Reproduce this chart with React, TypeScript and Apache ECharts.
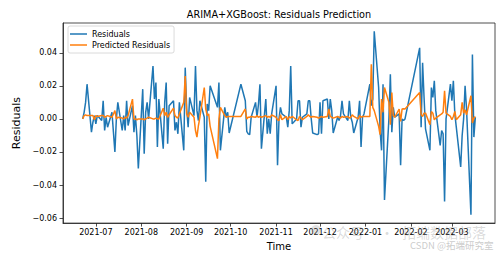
import React, { useEffect, useRef } from "react";
import * as echarts from "echarts";

// Trading months (year, month) and the trading days in each of them
const tradeMonths: [number, number][] = [
  [2021, 6], [2021, 7], [2021, 8], [2021, 9], [2021, 10],
  [2021, 11], [2021, 12], [2022, 1], [2022, 2], [2022, 3],
];

const tradeDays: number[][] = [
  [22, 23, 24, 25, 28, 29, 30],
  [1, 2, 5, 6, 7, 8, 9, 12, 13, 14, 15, 16, 19, 20, 21, 22, 23, 26, 27, 28, 29, 30],
  [2, 3, 4, 5, 6, 9, 10, 11, 12, 13, 16, 17, 18, 19, 20, 23, 24, 25, 26, 27, 30, 31],
  [1, 2, 3, 6, 7, 8, 9, 10, 13, 14, 15, 16, 17, 22, 23, 24, 27, 28, 29, 30],
  [8, 11, 12, 13, 14, 15, 18, 19, 20, 21, 22, 25, 26, 27, 28, 29],
  [1, 2, 3, 4, 5, 8, 9, 10, 11, 12, 15, 16, 17, 18, 19, 22, 23, 24, 25, 26, 29, 30],
  [1, 2, 3, 6, 7, 8, 9, 10, 13, 14, 15, 16, 17, 20, 21, 22, 23, 24, 27, 28, 29, 30, 31],
  [4, 5, 6, 7, 10, 11, 12, 13, 14, 17, 18, 19, 20, 21, 24, 25, 26, 27, 28],
  [7, 8, 9, 10, 11, 14, 15, 16, 17, 18, 21, 22, 23, 24, 25, 28],
  [1, 2, 3, 4, 7, 8, 9, 10, 11, 14, 15, 16, 17],
];

// ARIMA residuals, one row per month
const residuals: number[][] = [
  [0.0, 0.004, 0.01, 0.021, -0.008, -0.002, 0.002],
  [-0.003, 0.002, -0.001, 0.011, -0.007, 0.001, -0.005, 0.004, -0.008, -0.02, 0.0, 0.01, -0.007, 0.002, -0.007, 0.011, -0.004, 0.008, -0.008, 0.002, -0.01, -0.03],
  [0.018, -0.021, 0.004, 0.01, 0.0, 0.032, 0.012, 0.022, -0.017, 0.012, -0.018, 0.01, 0.022, -0.015, 0.008, 0.011, -0.007, -0.002, -0.009, 0.01, -0.019, 0.031],
  [0.006, -0.005, 0.013, 0.002, 0.032, 0.005, -0.001, 0.011, 0.001, -0.038, 0.009, 0.005, 0.02, 0.007, 0.022, -0.019, 0.007, 0.001, 0.004, -0.0085],
  [0.021, 0.011, -0.0075, -0.009, -0.0095, 0.001, 0.01, 0.001, 0.009, 0.021, -0.018, 0.012, -0.009, 0.0, -0.009, 0.003],
  [0.02, -0.028, 0.0, 0.007, 0.003, 0.001, -0.005, 0.005, 0.032, -0.003, 0.0, 0.011, 0.011, -0.005, 0.001, 0.003, 0.011, 0.011, 0.0, -0.0085, -0.0095, -0.009],
  [0.01, -0.009, 0.011, 0.012, 0.0, 0.012, 0.005, -0.0085, 0.001, -0.001, 0.002, 0.011, 0.003, -0.001, 0.011, 0.001, -0.002, -0.0085, 0.001, 0.011, -0.017, 0.001, 0.003],
  [0.021, 0.008, 0.012, 0.053, 0.019, -0.007, -0.019, 0.021, -0.049, 0.0, 0.027, -0.008, 0.007, 0.001, 0.003, -0.028, 0.0, -0.001, 0.0],
  [0.043, -0.005, 0.034, 0.013, -0.006, -0.019, 0.019, 0.013, 0.023, 0.005, -0.016, -0.007, -0.009, -0.05, 0.0, 0.021],
  [0.011, 0.023, 0.003, -0.005, -0.029, -0.01, 0.0, 0.02, 0.006, -0.058, 0.039, -0.011, 0.001],
];

// XGBoost predictions of the residuals, one row per month
const predicted: number[][] = [
  [0.0, 0.002, 0.0025, 0.002, 0.002, 0.002, -0.0005],
  [0.002, 0.0015, 0.002, 0.002, 0.001, 0.0015, 0.002, 0.001, 0.003, 0.005, 0.0, 0.001, 0.0005, 0.0, 0.001, 0.0005, 0.002, 0.012, 0.0, 0.0, -0.0005, 0.0],
  [0.0, -0.0005, 0.0, 0.0005, 0.001, 0.0, 0.0, 0.0005, 0.0, 0.0, 0.0065, 0.002, 0.004, 0.001, 0.0025, 0.0065, 0.002, 0.001, 0.0005, 0.003, 0.01, 0.026],
  [0.003, 0.001, 0.004, 0.001, -0.007, -0.011, -0.004, 0.001, 0.019, 0.006, 0.002, 0.003, -0.0045, -0.024, 0.0, 0.007, 0.002, 0.001, 0.0015, 0.0015],
  [0.0015, 0.006, 0.0, 0.001, 0.001, 0.0015, 0.001, 0.002, 0.001, 0.0015, 0.001, 0.002, 0.001, 0.0015, 0.001, 0.0025],
  [0.001, -0.0005, -0.001, 0.0025, -0.0005, 0.0015, -0.0005, 0.0015, 0.0005, 0.0015, -0.0005, -0.001, 0.0015, 0.0005, -0.0005, 0.0015, 0.0025, 0.0015, 0.001, 0.0015, 0.001, 0.0005],
  [0.001, 0.0015, 0.001, 0.0015, 0.006, 0.0015, 0.001, 0.0005, 0.0015, 0.001, 0.0005, 0.0015, 0.001, 0.0015, 0.0005, 0.001, 0.0025, 0.0015, 0.0, 0.002, 0.001, 0.0015, 0.0015],
  [0.0015, 0.033, 0.007, 0.005, -0.0045, -0.0095, 0.012, 0.004, 0.019, 0.01, -0.0035, 0.016, 0.002, 0.001, 0.006, -0.0015, 0.006, 0.0062, 0.006],
  [0.016, 0.0025, 0.0015, 0.0035, 0.0035, -0.0035, 0.0045, 0.0035, -0.0005, 0.0005, 0.0025, 0.003, 0.004, 0.017, 0.0035, 0.0015],
  [-0.0005, 0.0015, 0.0045, -0.0005, 0.0025, 0.01, 0.0035, 0.0055, 0.0025, 0.014, -0.0025, 0.0005, 0.0015],
];

// Axis ticks
const monthTicks: [number, number][] = [
  [2021, 7], [2021, 8], [2021, 9], [2021, 10], [2021, 11], [2021, 12], [2022, 1], [2022, 2], [2022, 3],
];
const yTicks = [-0.06, -0.04, -0.02, 0.0, 0.02, 0.04];

const FONT = "DejaVu Sans";

const ts = (y: number, m: number, d: number, h = 0) => new Date(y, m - 1, d, h).getTime();

function buildSeries(values: number[][]): [number, number][] {
  const out: [number, number][] = [];
  tradeMonths.forEach(([y, m], i) => {
    tradeDays[i].forEach((d, j) => {
      out.push([ts(y, m, d), values[i][j]]);
    });
  });
  return out;
}

export default function App() {
  const ref = useRef<HTMLDivElement>(null);

  useEffect(() => {
    if (!ref.current) return;
    const chart = echarts.init(ref.current, undefined, { renderer: "svg" });
    const xTickValues = monthTicks.map(([y, m]) => ts(y, m, 1));
    const watermark = "rgba(140,140,140,0.33)";

    chart.setOption({
      animation: false,
      backgroundColor: "#ffffff",
      textStyle: { fontFamily: FONT },
      title: {
        text: "ARIMA+XGBoost: Residuals Prediction",
        left: 279,
        textAlign: "center",
        top: 9,
        padding: 0,
        textStyle: { fontFamily: FONT, fontSize: 9.7, fontWeight: "normal", color: "#000" },
      },
      legend: {
        orient: "vertical",
        left: 68,
        top: 26,
        icon: "rect",
        itemWidth: 17,
        itemHeight: 1.5,
        itemGap: 1,
        padding: [3, 4, 3, 2],
        backgroundColor: "rgba(255,255,255,0.8)",
        borderColor: "#d0d0d0",
        borderWidth: 0.8,
        borderRadius: 2,
        textStyle: { fontFamily: FONT, fontSize: 8, lineHeight: 10, color: "#000" },
        data: ["Residuals", "Predicted Residuals"],
      },
      grid: {
        left: 63,
        top: 23,
        right: 7,
        bottom: 29,
        show: true,
        borderColor: "#222",
        borderWidth: 0.8,
        backgroundColor: "transparent",
      },
      xAxis: {
        type: "value",
        min: ts(2021, 6, 8, 14),
        max: ts(2022, 3, 30, 10),
        name: "Time",
        nameLocation: "middle",
        nameGap: 16,
        nameTextStyle: { fontFamily: FONT, fontSize: 10, color: "#000" },
        axisLine: { show: true, onZero: false, lineStyle: { color: "#222", width: 0.8 } },
        axisTick: { show: true, length: 3.5, lineStyle: { color: "#222", width: 0.8 }, customValues: xTickValues },
        axisLabel: {
          customValues: xTickValues,
          fontFamily: FONT,
          fontSize: 8,
          color: "#000",
          margin: 5,
          formatter: (v: number) => {
            const d = new Date(v);
            return `${d.getFullYear()}-${String(d.getMonth() + 1).padStart(2, "0")}`;
          },
        },
        splitLine: { show: false },
      },
      yAxis: {
        type: "value",
        min: -0.063,
        max: 0.058,
        name: "Residuals",
        nameLocation: "middle",
        nameGap: 34,
        nameTextStyle: { fontFamily: FONT, fontSize: 11, color: "#000" },
        axisLine: { show: true, onZero: false, lineStyle: { color: "#222", width: 0.8 } },
        axisTick: { show: true, length: 3.5, lineStyle: { color: "#222", width: 0.8 }, customValues: yTicks },
        axisLabel: {
          customValues: yTicks,
          fontFamily: FONT,
          fontSize: 8,
          color: "#000",
          margin: 6,
          formatter: (v: number) => v.toFixed(2).replace("-", "\u2212"),
        },
        splitLine: { show: false },
      },
      series: [
        {
          name: "Residuals",
          type: "line",
          data: buildSeries(residuals),
          showSymbol: false,
          silent: true,
          color: "#1f77b4",
          lineStyle: { color: "#1f77b4", width: 1.5 },
          z: 2,
        },
        {
          name: "Predicted Residuals",
          type: "line",
          data: buildSeries(predicted),
          showSymbol: false,
          silent: true,
          color: "#ff7f0e",
          lineStyle: { color: "#ff7f0e", width: 1.5 },
          z: 3,
        },
      ],
      graphic: [
        {
          type: "circle",
          shape: { cx: 316, cy: 230, r: 5 },
          style: { fill: "rgba(150,150,150,0.28)" },
          z: 100,
          silent: true,
        },
        {
          type: "text",
          x: 322,
          y: 232,
          style: { text: "公众号", font: "14px 'Noto Sans CJK SC'", fill: watermark, verticalAlign: "middle" },
          z: 100,
          silent: true,
        },
        {
          type: "text",
          x: 387,
          y: 232,
          style: { text: "·", font: "14px 'Noto Sans CJK SC'", fill: watermark, align: "center", verticalAlign: "middle" },
          z: 100,
          silent: true,
        },
        {
          type: "text",
          x: 402,
          y: 232,
          style: { text: "拓端数据部落", font: "14px 'Noto Sans CJK SC'", fill: watermark, verticalAlign: "middle" },
          z: 100,
          silent: true,
        },
        {
          type: "text",
          x: 410,
          y: 245,
          style: { text: "CSDN @拓端研究室", font: "9.5px 'Noto Sans CJK SC'", fill: "rgba(150,150,150,0.5)", verticalAlign: "middle" },
          z: 100,
          silent: true,
        },
      ],
    });

    return () => chart.dispose();
  }, []);

  return (
    <div
      ref={ref}
      style={{ position: "fixed", left: 0, top: 0, width: 502, height: 256, background: "#fff" }}
    />
  );
}
